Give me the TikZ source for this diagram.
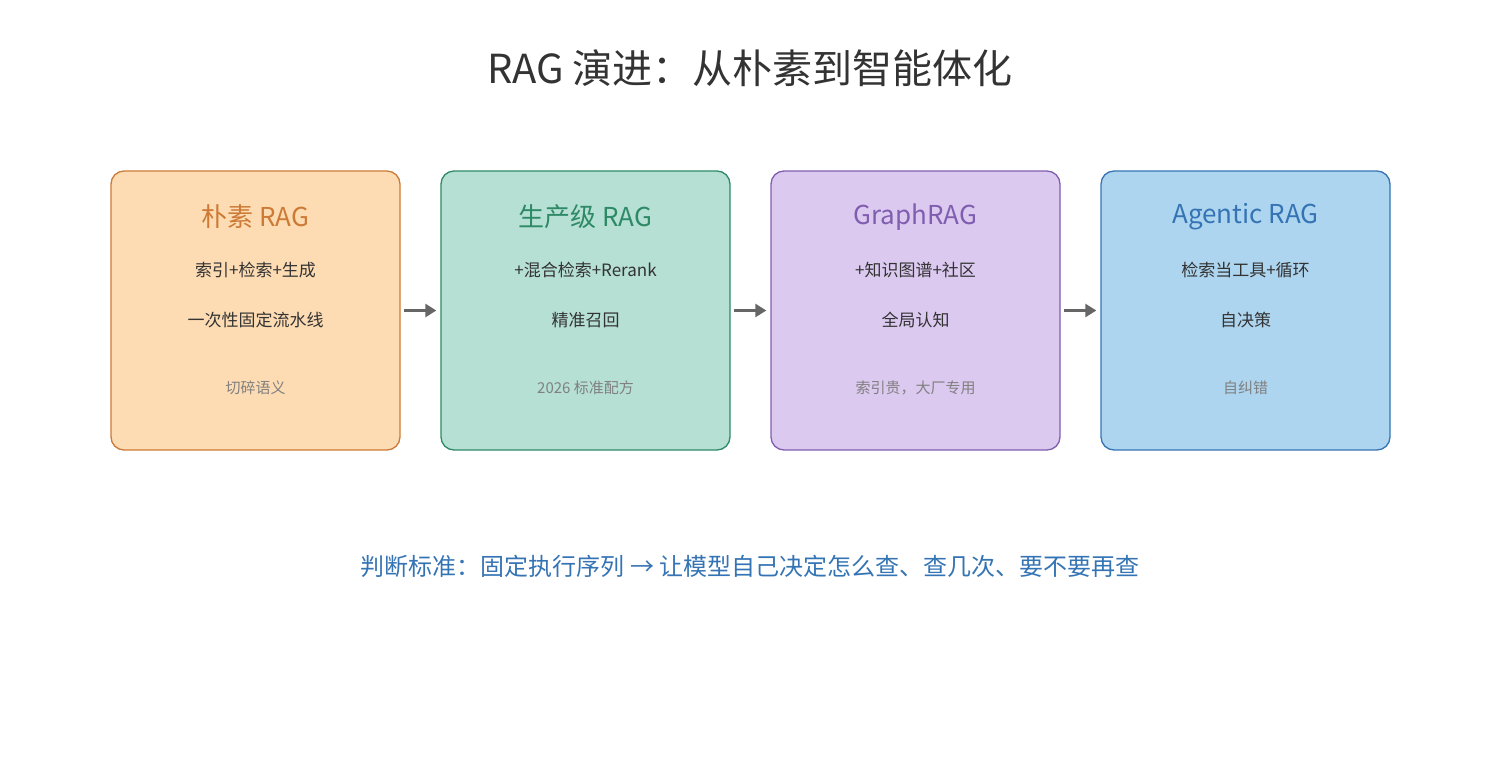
\documentclass[tikz,border=0pt]{standalone}
\usepackage{fontspec}
\setmainfont{Noto Sans CJK SC}
\usetikzlibrary{arrows.meta}
\definecolor{oF}{HTML}{FDDCB3}\definecolor{oB}{HTML}{CC7A36}
\definecolor{gF}{HTML}{B6E0D4}\definecolor{gB}{HTML}{2E8A66}
\definecolor{pF}{HTML}{DCC9F0}\definecolor{pB}{HTML}{7F5EB0}
\definecolor{bF}{HTML}{AED5EF}\definecolor{bB}{HTML}{3574B4}
\definecolor{tx}{HTML}{333333}\definecolor{nt}{HTML}{808080}
\begin{document}
\begin{tikzpicture}[x=1pt,y=-1pt,
 box/.style={draw=#1B,fill=#1F,line width=1.3pt,rounded corners=13pt,minimum width=289pt,minimum height=279pt,inner sep=0pt},
 hd/.style={text=#1B,font=\fontsize{26}{30}\selectfont},
 ln/.style={text=tx,font=\fontsize{17}{20}\selectfont},
 nt/.style={text=nt,font=\fontsize{15}{18}\selectfont},
 arr/.style={draw=black!60,line width=2.5pt,-{Triangle[length=11pt,width=13pt]}}]
\useasboundingbox (0,0) rectangle (1500,780);
\node[text=tx,font=\fontsize{40}{46}\selectfont] (title) at (750,68) {RAG 演进：从朴素到智能体化};
\foreach \i/\c/\h/\a/\b/\n in {0/o/朴素 RAG/索引+检索+生成/一次性固定流水线/切碎语义/召回噪音,
 1/g/生产级 RAG/+混合检索+Rerank/精准召回/2026 标准配方,
 2/p/GraphRAG/+知识图谱+社区/全局认知/索引贵，大厂专用,
 3/b/Agentic RAG/检索当工具+循环/自决策/自纠错/2026 最前沿}{
 \pgfmathsetmacro\xx{255.5+330*\i}
 \node[box=\c] (b\i) at (\xx,310.5) {};
 \node[hd=\c] (h\i) at (\xx,217) {\h};
 \node[ln] (a\i) at (\xx,270) {\a};
 \node[ln] (c\i) at (\xx,320) {\b};
 \node[nt] (n\i) at (\xx,388) {\n};
}
\foreach \i/\j in {0/1,1/2,2/3}{\draw[arr] ([xshift=3pt]b\i.east) -- ([xshift=-4pt]b\j.west);}
\node[text=bB,font=\fontsize{24}{28}\selectfont] (foot) at (750,566) {判断标准：固定执行序列 → 让模型自己决定怎么查、查几次、要不要再查};
\end{tikzpicture}
\end{document}
